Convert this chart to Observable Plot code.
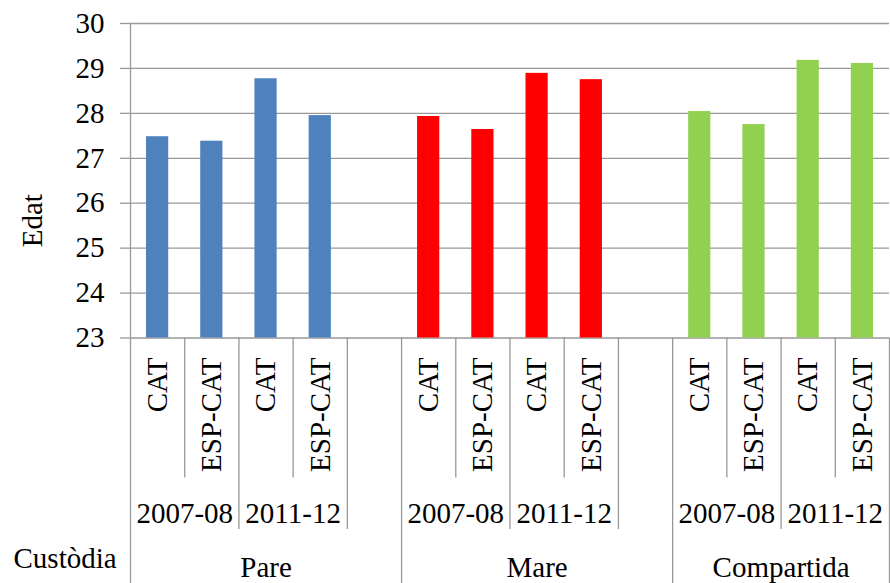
<!DOCTYPE html>
<html><head><meta charset="utf-8">
<script src="https://cdn.jsdelivr.net/npm/d3@7"></script>
<script src="https://cdn.jsdelivr.net/npm/@observablehq/plot@0.6"></script>
<style>body{margin:0;background:#fff} svg text{font-family:'Liberation Serif','Times New Roman',serif !important}</style>
</head><body><div id="chart"></div>
<script>
const groups = ["Pare", "Mare", "Compartida"];
const periods = ["2007-08", "2011-12"];
const origins = ["CAT", "ESP-CAT"];
const pareValues = [27.48, 27.38, 28.77, 27.95];
const mareValues = [27.93, 27.64, 28.89, 28.75];
const compartidaValues = [28.04, 27.75, 29.18, 29.11];
const groupColors = ["#4F81BD", "#FF0000", "#92D050"];
const yTicks = [23, 24, 25, 26, 27, 28, 29, 30];
const axisTitle = "Edat";
const levelTitle = "Custòdia";

const seriesValues = [pareValues, mareValues, compartidaValues];
const slotsPerGroup = origins.length * periods.length + 1; // bars + empty gap slot
const nSlots = groups.length * slotsPerGroup - 1;

const bars = [];
groups.forEach((g, gi) => seriesValues[gi].forEach((v, j) => bars.push({
  group: g,
  period: periods[Math.floor(j / origins.length)],
  origin: origins[j % origins.length],
  value: v,
  slot: gi * slotsPerGroup + j
})));

const periodLabels = [];
groups.forEach((g, gi) => periods.forEach((p, pi) => periodLabels.push({
  text: p, center: gi * slotsPerGroup + pi * origins.length + origins.length / 2
})));
const groupLabels = groups.map((g, gi) => {
  const start = gi * slotsPerGroup;
  const end = Math.min(start + slotsPerGroup, nSlots);
  return {text: g, center: (start + end) / 2};
});

// separators of the multi-level category axis
const groupEdges = [];
groups.forEach((g, gi) => groupEdges.push(gi * slotsPerGroup));
groupEdges.push(nSlots);
const periodEdges = [];
const originEdges = [];
groups.forEach((g, gi) => periods.forEach((p, pi) => {
  const s = gi * slotsPerGroup + pi * origins.length;
  for (let k = 1; k < origins.length; k++) originEdges.push(s + k);
  const e = s + origins.length;
  if (!groupEdges.includes(e)) periodEdges.push(e);
}));

const yBase = yTicks[0];
const lineColor = "#999";
const font = "Liberation Serif";
const fs = 29;

const chart = Plot.plot({
  width: 890,
  height: 583,
  marginTop: 23,
  marginBottom: 245.5,
  marginLeft: 130,
  marginRight: 1,
  x: {type: "linear", domain: [0, nSlots], axis: null},
  y: {domain: [yTicks[0], yTicks[yTicks.length - 1]], axis: null},
  color: {domain: groups, range: groupColors},
  style: {fontFamily: font, fontSize: fs + "px", color: "#000", background: "#fff", overflow: "visible"},
  marks: [
    Plot.gridY(yTicks, {stroke: lineColor, strokeOpacity: 1, strokeWidth: 1.3}),
    Plot.axisY(yTicks, {tickSize: 10, tickPadding: 16, stroke: lineColor, strokeOpacity: 1, strokeWidth: 1.3, fontSize: fs, fontFamily: font, fill: "#000", label: null}),
    Plot.ruleX([0], {stroke: lineColor, strokeOpacity: 1, strokeWidth: 1.3}),
    Plot.rectY(bars, {x1: "slot", x2: d => d.slot + 1, y1: yBase, y2: "value", fill: "group", insetLeft: 16, insetRight: 16}),
    Plot.ruleX(originEdges, {x: d => d, y1: yBase, y2: yBase, insetBottom: -140, stroke: lineColor, strokeWidth: 1.3}),
    Plot.ruleX(periodEdges, {x: d => d, y1: yBase, y2: yBase, insetBottom: -191.5, stroke: lineColor, strokeWidth: 1.3}),
    Plot.ruleX(groupEdges, {x: d => d, y1: yBase, y2: yBase, insetBottom: -245.5, stroke: lineColor, strokeWidth: 1.3}),
    Plot.text(bars, {x: d => d.slot + 0.5, y: yBase, text: "origin", rotate: -90, textAnchor: "end", lineAnchor: "middle", dy: 19.5, fontSize: fs, fontFamily: font, fill: "#000"}),
    Plot.text(periodLabels, {x: "center", y: yBase, text: "text", dy: 176, fontSize: fs, fontFamily: font, fill: "#000"}),
    Plot.text(groupLabels, {x: "center", y: yBase, text: "text", dy: 229.5, fontSize: fs, fontFamily: font, fill: "#000"}),
    Plot.text([levelTitle], {frameAnchor: "bottom-left", textAnchor: "start", dx: -117, dy: 229.5, fontSize: fs, fontFamily: font, fill: "#000"}),
    Plot.text([axisTitle], {frameAnchor: "left", rotate: -90, textAnchor: "middle", lineAnchor: "middle", dx: -97.5, dy: 40, fontSize: fs, fontFamily: font, fill: "#000"})
  ]
});
document.getElementById("chart").appendChild(chart);
</script>
</body></html>
